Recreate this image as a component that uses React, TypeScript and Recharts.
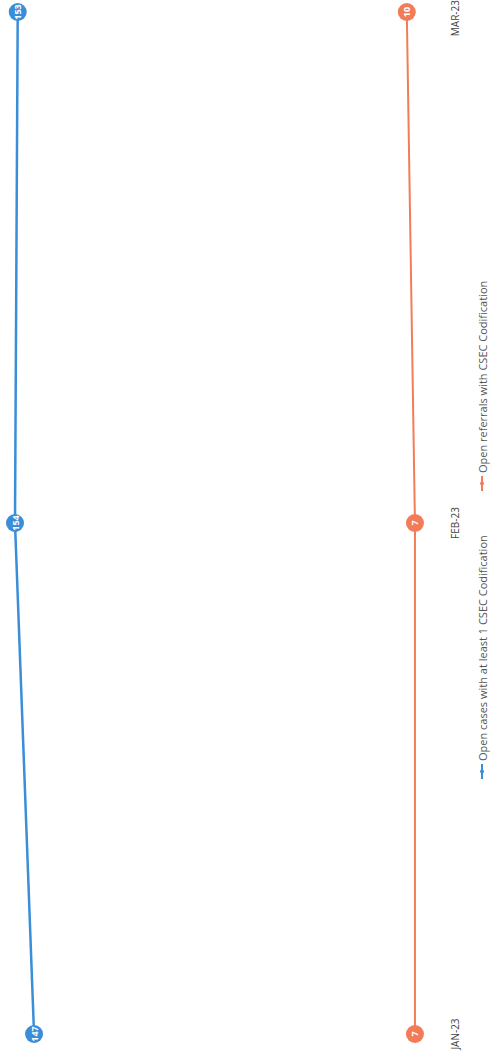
import React from "react";
import { LineChart, Line, XAxis, YAxis, LabelList } from "recharts";

const months = ["JAN-23", "FEB-23", "MAR-23"];
const openCases = [147, 154, 153];
const openReferrals = [7, 7, 10];
const seriesNames = [
  "Open cases with at least 1 CSEC Codification",
  "Open referrals with CSEC Codification",
];
const seriesColors = ["#3a8ed8", "#f27c58"];

const data = months.map((m, i) => ({
  month: m,
  cases: openCases[i],
  referrals: openReferrals[i],
}));

const W = 1057;
const H = 490;

const DotLabel = (props: any) => {
  const { x, y, value } = props;
  return (
    <text
      x={x}
      y={y}
      textAnchor="middle"
      dominantBaseline="central"
      fill="#ffffff"
      fontSize={9}
      fontWeight="bold"
      fontFamily="'Open Sans', sans-serif"
    >
      {value}
    </text>
  );
};

// legend drawn in svg, the html Legend gets measured wrong inside the rotated box
const ChartLegend = () => {
  const starts = [278, 566];
  const ly = 482;
  return (
    <g fontFamily="'Open Sans', sans-serif" fontSize={11} fill="#555">
      {seriesNames.map((name, i) => (
        <g key={name}>
          <line
            x1={starts[i]}
            x2={starts[i] + 15}
            y1={ly}
            y2={ly}
            stroke={seriesColors[i]}
            strokeWidth={2}
          />
          <circle cx={starts[i] + 7.5} cy={ly} r={2} fill={seriesColors[i]} />
          <text x={starts[i] + 18} y={ly} dominantBaseline="central">
            {name}
          </text>
        </g>
      ))}
    </g>
  );
};

export default function App() {
  return (
    <div
      style={{
        position: "absolute",
        top: 0,
        left: 0,
        width: H,
        height: W,
        overflow: "hidden",
        background: "#fff",
      }}
    >
      <div
        style={{
          width: W,
          height: H,
          transformOrigin: "0 0",
          transform: `translateY(${W}px) rotate(-90deg)`,
        }}
      >
        <LineChart
          width={W}
          height={H}
          data={data}
          margin={{ top: 15, right: 12, left: 23, bottom: 0 }}
        >
          <XAxis
            dataKey="month"
            axisLine={false}
            tickLine={false}
            tickSize={6}
            tickMargin={12}
            height={56}
            tick={{ fontSize: 10, fill: "#404040", fontFamily: "'Open Sans', sans-serif" }}
          />
          <YAxis hide domain={[0, "dataMax"]} />
          <Line
            dataKey="cases"
            name={seriesNames[0]}
            stroke={seriesColors[0]}
            strokeWidth={2.5}
            dot={{ r: 9, fill: seriesColors[0], stroke: "none" }}
            isAnimationActive={false}
          >
            <LabelList dataKey="cases" content={DotLabel} />
          </Line>
          <Line
            dataKey="referrals"
            name={seriesNames[1]}
            stroke={seriesColors[1]}
            strokeWidth={2}
            dot={{ r: 9, fill: seriesColors[1], stroke: "none" }}
            isAnimationActive={false}
          >
            <LabelList dataKey="referrals" content={DotLabel} />
          </Line>
          <ChartLegend />
        </LineChart>
      </div>
    </div>
  );
}
